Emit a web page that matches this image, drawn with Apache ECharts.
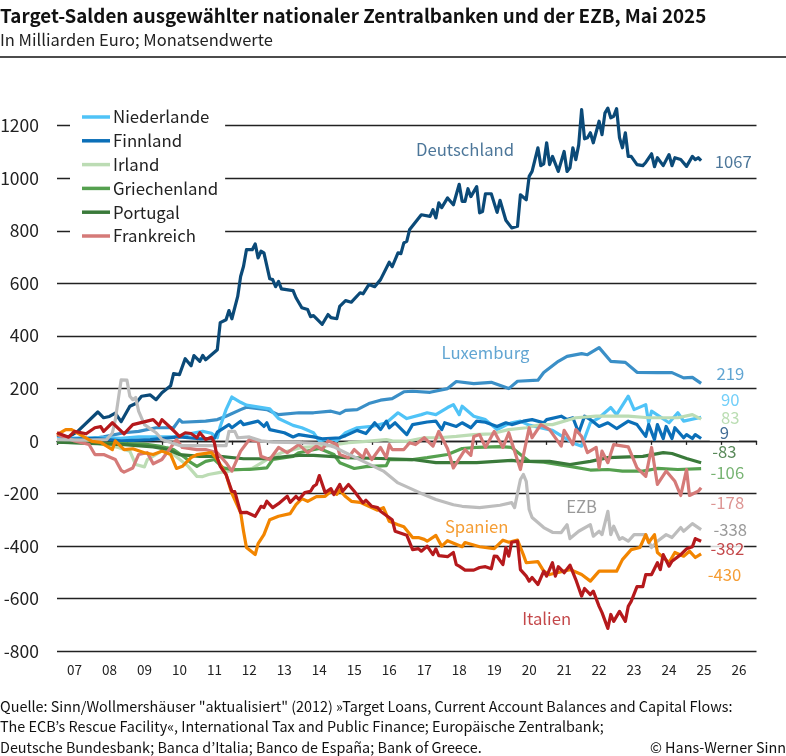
<!DOCTYPE html>
<html>
<head>
<meta charset="utf-8">
<title>Target-Salden</title>
<style>
html,body{margin:0;padding:0;background:#fff;}
#chart{width:786px;height:756px;}
</style>
<script src="https://cdn.jsdelivr.net/npm/echarts@6/dist/echarts.min.js"></script>
</head>
<body>
<div id="chart"></div>
<script>
// Werte als [Monate seit Jan 2007, Mrd. Euro]
var yearLabels = ['07','08','09','10','11','12','13','14','15','16','17','18','19','20','21','22','23','24','25','26'];

var deutschland = [[0,20],[4,15],[7,35],[14,110],[16,88],[18,93],[20,106],[22,73],[25,132],[27,142],[29,170],[32,175],[34,157],[36,183],[39,210],[40,256],[42,252],[44,313],[46,286],[47,325],[49,303],[50,325],[51,309],[55,347],[56,450],[58,461],[59,496],[60,465],[62,550],[63,626],[64,665],[65,728],[67,728],[68,750],[69,697],[70,722],[71,716],[73,617],[74,614],[75,587],[76,607],[77,579],[81,572],[82,545],[84,507],[86,500],[87,473],[88,477],[91,444],[93,481],[94,469],[96,465],[97,512],[99,534],[101,528],[104,564],[105,560],[107,595],[109,587],[111,614],[114,680],[115,663],[117,716],[118,713],[119,754],[120,760],[121,805],[125,861],[128,855],[129,880],[130,849],[131,906],[132,888],[134,925],[136,899],[138,977],[139,912],[140,912],[141,960],[142,930],[144,968],[145,868],[146,873],[147,941],[149,941],[151,870],[152,916],[154,840],[156,811],[158,817],[159,937],[161,918],[162,1007],[163,1026],[165,1116],[166,1048],[167,1055],[168,1135],[169,1052],[170,1083],[172,1026],[174,1102],[175,1026],[176,1040],[177,1116],[178,1071],[179,1127],[180,1261],[181,1150],[182,1154],[183,1173],[184,1135],[186,1217],[187,1166],[188,1248],[189,1267],[190,1230],[191,1236],[192,1265],[193,1154],[194,1116],[195,1173],[196,1083],[197,1083],[199,1052],[201,1048],[202,1060],[204,1093],[205,1044],[206,1078],[208,1048],[210,1090],[211,1048],[212,1078],[214,1071],[216,1045],[218,1083],[219,1071],[220,1078],[221,1067]];
var luxemburg = [[0,0],[8,2],[16,15],[23,31],[28,36],[34,50],[40,50],[42,81],[43,71],[51,75],[55,81],[58,94],[63,119],[65,128],[72,119],[74,109],[76,100],[83,107],[88,107],[94,113],[97,104],[99,116],[103,119],[107,142],[111,155],[115,161],[119,187],[122,189],[128,185],[134,199],[137,226],[143,218],[149,223],[155,199],[158,227],[165,231],[167,260],[172,303],[175,322],[180,332],[182,328],[186,355],[190,303],[195,299],[199,261],[206,260],[211,260],[215,240],[218,242],[221,219]];
var niederlande = [[0,10],[11,12],[17,12],[22,10],[28,15],[40,15],[50,36],[53,29],[55,12],[56,55],[58,119],[60,167],[63,147],[65,136],[73,122],[76,85],[81,59],[84,50],[88,31],[90,0],[94,9],[96,0],[99,31],[103,50],[108,55],[113,69],[117,107],[120,85],[125,100],[127,107],[130,100],[134,127],[136,138],[138,100],[139,132],[143,94],[147,81],[151,43],[154,60],[156,69],[159,75],[162,60],[170,40],[177,-8],[180,-20],[183,69],[186,88],[190,127],[192,100],[196,170],[198,119],[202,138],[203,69],[204,113],[210,69],[213,107],[215,75],[221,90]];
var finnland = [[0,5],[13,10],[22,0],[32,5],[42,15],[49,8],[54,10],[55,33],[59,62],[60,50],[63,75],[64,62],[69,75],[71,55],[72,69],[73,43],[78,31],[81,15],[83,24],[88,15],[91,8],[97,12],[99,20],[103,40],[106,28],[108,55],[109,69],[111,43],[113,75],[114,50],[116,69],[120,24],[122,62],[127,72],[130,75],[132,43],[133,69],[137,55],[139,69],[142,50],[144,75],[147,71],[151,55],[154,69],[156,62],[160,75],[163,81],[167,69],[168,81],[173,94],[175,81],[177,88],[179,31],[181,94],[183,81],[186,55],[189,69],[192,47],[196,75],[199,62],[202,17],[203,62],[205,5],[206,62],[208,9],[209,55],[211,9],[212,50],[215,12],[216,24],[218,9],[219,24],[221,9]];
var irland = [[0,-5],[12,-5],[21,-25],[25,-39],[27,-90],[30,-99],[31,-71],[38,-25],[40,-52],[45,-97],[48,-135],[50,-136],[52,-128],[56,-120],[60,-113],[67,-105],[72,-71],[77,-45],[84,-25],[92,-20],[100,-7],[105,-3],[113,5],[115,0],[120,-2],[126,12],[131,12],[137,17],[143,24],[149,27],[155,43],[161,50],[166,62],[170,62],[178,88],[185,94],[196,94],[203,88],[213,88],[218,100],[221,83]];
var griechenland = [[0,-5],[30,-12],[35,-20],[40,-33],[44,-64],[46,-83],[48,-97],[51,-78],[54,-71],[57,-103],[60,-109],[66,-109],[72,-103],[74,-71],[81,-59],[83,-45],[90,-29],[95,-52],[97,-83],[102,-105],[106,-98],[113,-94],[114,-71],[122,-71],[127,-64],[134,-52],[139,-29],[144,-25],[152,-22],[156,-25],[159,-52],[162,-78],[167,-81],[176,-97],[183,-111],[189,-109],[194,-115],[201,-115],[206,-105],[213,-109],[221,-106]];
var portugal = [[0,-5],[23,-14],[33,-23],[38,-33],[42,-52],[49,-59],[56,-59],[64,-68],[72,-68],[79,-59],[83,-55],[88,-55],[95,-60],[99,-64],[111,-67],[122,-71],[130,-83],[144,-83],[156,-74],[159,-78],[169,-78],[176,-90],[183,-78],[189,-64],[201,-59],[208,-45],[211,-48],[216,-67],[221,-83]];
var frankreich = [[0,24],[3,12],[6,0],[11,-14],[13,-52],[16,-52],[20,-71],[22,-112],[23,-119],[26,-103],[28,-52],[31,-45],[33,-87],[36,-71],[41,5],[43,-25],[48,-33],[51,-33],[55,-45],[58,-83],[60,-115],[63,-39],[66,5],[69,-2],[70,-59],[73,-71],[76,-25],[79,-45],[83,-14],[86,-45],[89,-20],[91,-33],[93,0],[96,-14],[97,-52],[100,-64],[102,-33],[105,-64],[106,-33],[108,-71],[111,-25],[113,-64],[114,-14],[115,-33],[119,-33],[121,-7],[123,-14],[126,12],[129,-20],[131,36],[134,-30],[136,-103],[140,-33],[142,-55],[143,17],[145,24],[147,-25],[150,36],[153,-25],[155,31],[159,-109],[162,50],[163,12],[166,62],[169,43],[173,-20],[174,40],[177,-14],[178,43],[180,17],[182,-45],[185,-25],[186,-103],[187,-39],[189,-83],[191,-14],[196,-23],[199,-103],[202,-135],[204,-25],[206,-166],[209,-115],[212,-154],[214,-208],[216,-109],[217,-208],[220,-192],[221,-178]];
var ezb = [[0,5],[10,3],[17,5],[19,30],[20,80],[22,232],[24,231],[25,170],[26,157],[27,165],[28,113],[30,62],[34,31],[36,5],[42,-18],[50,-18],[58,-18],[59,36],[61,36],[62,12],[66,15],[70,0],[74,-5],[83,-7],[91,-10],[95,-23],[99,-45],[106,-83],[112,-115],[117,-160],[125,-200],[130,-223],[136,-243],[139,-249],[145,-254],[152,-245],[156,-235],[157,-254],[158,-200],[159,-147],[160,-128],[161,-154],[162,-261],[163,-292],[167,-330],[170,-348],[173,-349],[175,-319],[176,-372],[179,-344],[183,-319],[184,-363],[186,-344],[187,-357],[189,-268],[190,-357],[191,-325],[193,-375],[194,-368],[196,-382],[198,-357],[202,-357],[204,-406],[206,-382],[209,-357],[211,-368],[214,-330],[215,-344],[218,-315],[221,-338]];
var spanien = [[0,24],[3,43],[5,43],[9,17],[12,-2],[15,-6],[19,-33],[20,0],[23,-33],[26,-30],[30,-45],[33,-52],[36,-39],[39,-52],[41,-105],[43,-97],[46,-64],[48,-52],[53,-45],[55,-71],[58,-128],[60,-200],[63,-273],[64,-344],[65,-406],[68,-433],[69,-391],[71,-357],[73,-300],[76,-287],[80,-277],[82,-243],[84,-220],[86,-230],[89,-212],[92,-211],[94,-192],[96,-204],[97,-188],[99,-212],[101,-230],[104,-234],[107,-249],[110,-264],[112,-254],[114,-306],[117,-319],[119,-327],[122,-368],[124,-368],[126,-375],[127,-382],[130,-360],[132,-401],[134,-380],[139,-403],[140,-387],[145,-403],[150,-410],[153,-378],[155,-386],[158,-378],[160,-433],[161,-464],[165,-460],[167,-496],[169,-509],[176,-490],[180,-509],[183,-534],[186,-496],[192,-496],[194,-452],[197,-414],[200,-406],[202,-357],[203,-387],[205,-357],[206,-425],[210,-463],[212,-425],[215,-439],[217,-420],[219,-444],[221,-430]];
var italien = [[0,31],[4,14],[6,36],[10,27],[13,50],[15,54],[16,36],[19,69],[23,27],[26,62],[33,81],[35,59],[36,81],[39,50],[42,17],[44,31],[46,28],[48,12],[49,31],[51,5],[53,14],[54,-7],[55,-64],[56,-97],[58,-128],[60,-192],[61,-193],[63,-273],[65,-272],[68,-287],[70,-249],[71,-254],[72,-230],[74,-254],[76,-239],[79,-211],[80,-234],[82,-211],[83,-223],[85,-197],[87,-192],[88,-173],[89,-166],[90,-132],[92,-197],[94,-182],[95,-204],[97,-166],[98,-192],[100,-166],[102,-192],[105,-236],[106,-226],[108,-249],[110,-254],[111,-268],[115,-300],[116,-344],[120,-359],[122,-414],[124,-410],[125,-420],[127,-401],[129,-433],[130,-411],[131,-437],[134,-441],[136,-425],[137,-471],[138,-477],[140,-492],[143,-492],[145,-482],[147,-479],[149,-487],[150,-439],[151,-440],[153,-471],[154,-406],[155,-439],[156,-386],[158,-382],[159,-490],[161,-515],[162,-534],[163,-520],[165,-547],[167,-496],[168,-515],[170,-464],[171,-515],[172,-479],[174,-502],[176,-473],[178,-528],[180,-591],[181,-562],[183,-585],[184,-572],[186,-630],[187,-654],[189,-714],[190,-661],[191,-687],[193,-649],[195,-687],[196,-630],[197,-611],[199,-555],[201,-555],[202,-509],[204,-509],[206,-464],[207,-490],[208,-433],[210,-477],[211,-458],[214,-433],[216,-411],[218,-403],[219,-372],[221,-382]];

// Beschriftungen direkt im Diagramm
var noteTexts = ['Deutschland','Luxemburg','EZB','Spanien','Italien','1067','219','90','83','9','-83','-106','-178','-338','-382','-430'];
var noteMonths = [140,147,180,144,168,232,231,231,231,229,229,230,230,231,230,229];
var noteValues = [1109,336,-250,-326,-677,1064,256,157,89,32,-41,-121,-235,-338,-410,-509];
var noteColors = ['#1f5480','#3a8fc7','#808080','#f28500','#b5191c','#1f5480','#3a8fc7','#4fc3f7','#a9d49f','#12477a','#2f6b2f','#55a04f','#d57a78','#808080','#b5191c','#f28500'];
var noteBoxes = ['9','-382'];

var fontName = '"Noto Sans CJK KR","Noto Sans",sans-serif';
var myChart = echarts.init(document.getElementById('chart'));

function lineSeries(name, data, color){
	return {
		name: name,
		type: 'line',
		xAxisIndex: 1,
		yAxisIndex: 0,
		data: data,
		symbol: 'none',
		clip: false,
		color: color,
		itemStyle: {color: color},
		lineStyle: {color: color, width: 3.2, join: 'round'}
	};
}

function textBlock(text, top, size, weight, color, alignRight){
	var block = {text: text, top: top, padding: 0, textStyle: {fontFamily: fontName, fontSize: size, fontWeight: weight, color: color}};
	if(alignRight){
		block.right = 0;
	}else{
		block.left = 0;
	}
	return block;
}

var notes = noteTexts.map(function(t, i){
	var boxed = noteBoxes.indexOf(t) >= 0;
	return {
		value: [noteMonths[i], noteValues[i]],
		label: {
			formatter: t,
			color: noteColors[i],
			backgroundColor: boxed ? '#fff' : 'transparent',
			padding: t == '9' ? [0,10] : 0
		}
	};
});

var option = {
	animation: false,
	backgroundColor: '#fff',
	textStyle: {fontFamily: fontName},
	title: [
		textBlock('Target-Salden ausgewählter nationaler Zentralbanken und der EZB, Mai 2025', 6, 18.8, 'bold', '#111'),
		textBlock('In Milliarden Euro; Monatsendwerte', 31, 16.5, 'normal', '#222'),
		textBlock('Quelle: Sinn/Wollmershäuser "aktualisiert" (2012) »Target Loans, Current Account Balances and Capital Flows:', 699, 14.4, 'normal', '#111'),
		textBlock('The ECB’s Rescue Facility«, International Tax and Public Finance; Europäische Zentralbank;', 719.5, 14.4, 'normal', '#111'),
		textBlock('Deutsche Bundesbank; Banca d’Italia; Banco de España; Bank of Greece.', 740, 14.4, 'normal', '#111'),
		textBlock('© Hans-Werner Sinn', 740, 14.4, 'normal', '#111', true)
	],
	legend: {
		orient: 'vertical',
		left: 70,
		top: 107,
		padding: [0, 7, 0, 12],
		backgroundColor: '#fff',
		icon: 'rect',
		itemWidth: 28,
		itemHeight: 3.5,
		itemGap: 3.8,
		selectedMode: false,
		data: ['Niederlande','Finnland','Irland','Griechenland','Portugal','Frankreich'],
		textStyle: {fontFamily: fontName, fontSize: 16.8, color: '#222', lineHeight: 20, padding: [0,0,0,-2]}
	},
	graphic: [
		{type: 'line', shape: {x1: 0, y1: 57, x2: 786, y2: 57}, style: {stroke: '#111', lineWidth: 1.5}}
	],
	grid: {left: 57, right: 29.5, top: 125.7, height: 525.3, containLabel: false, outerBoundsMode: 'none'},
	xAxis: [
		{
			type: 'category',
			data: yearLabels,
			position: 'bottom',
			axisLine: {lineStyle: {color: '#222', width: 1.3}},
			axisTick: {show: true, length: 4, inside: false, lineStyle: {color: '#222', width: 1.3}},
			axisLabel: {color: '#222', fontSize: 13.5, margin: 12, fontFamily: fontName, interval: 0}
		},
		{type: 'value', min: 0, max: 240, show: false}
	],
	yAxis: {
		type: 'value',
		min: -800,
		max: 1200,
		interval: 200,
		axisLine: {show: false},
		axisTick: {show: false},
		axisLabel: {color: '#222', fontSize: 17.5, margin: 18, fontFamily: fontName, formatter: function(v){ return String(v); }},
		splitLine: {lineStyle: {color: '#222', width: 1.3}}
	},
	series: [
		lineSeries('Deutschland', deutschland, '#0b4a78'),
		lineSeries('Luxemburg', luxemburg, '#3a8fc7'),
		lineSeries('Niederlande', niederlande, '#4fc3f7'),
		lineSeries('Finnland', finnland, '#0b6fb8'),
		lineSeries('Irland', irland, '#bcdcb4'),
		lineSeries('Griechenland', griechenland, '#55a04f'),
		lineSeries('Portugal', portugal, '#3a7a3a'),
		lineSeries('Frankreich', frankreich, '#d57a78'),
		lineSeries('EZB', ezb, '#bdbdbd'),
		lineSeries('Spanien', spanien, '#f28500'),
		lineSeries('Italien', italien, '#b5191c'),
		{
			type: 'scatter',
			xAxisIndex: 1,
			yAxisIndex: 0,
			symbolSize: 0,
			clip: false,
			silent: true,
			z: 5,
			data: notes,
			label: {show: true, position: 'inside', fontSize: 16.7, fontFamily: fontName}
		}
	]
};
myChart.setOption(option);
</script>
</body>
</html>
